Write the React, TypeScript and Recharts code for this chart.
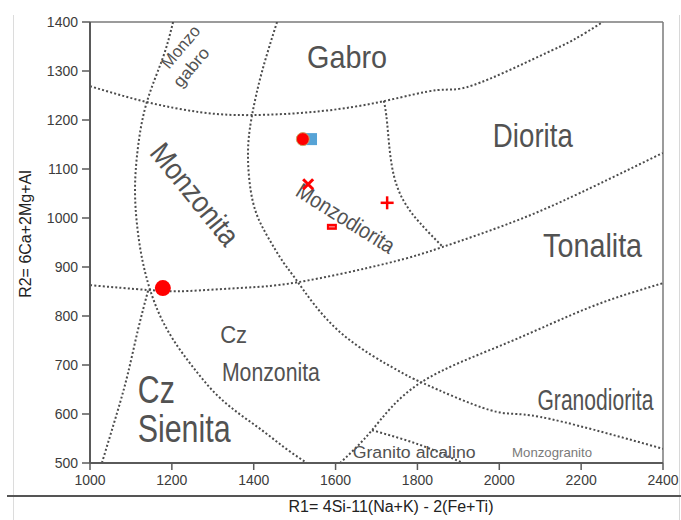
import React from 'react';
import { ComposedChart, Line, Scatter, XAxis, YAxis, ReferenceLine } from 'recharts';

const FONT = '"Liberation Sans", Arial, Helvetica, sans-serif';

const xTicks = [1000, 1200, 1400, 1600, 1800, 2000, 2200, 2400];
const yTicks = [500, 600, 700, 800, 900, 1000, 1100, 1200, 1300, 1400];

// Field boundaries of the R1-R2 diagram (R1, R2)
const gabroUpper = [
  { x: 1000, y: 1269 }, { x: 1137, y: 1237 }, { x: 1269, y: 1216 }, { x: 1393, y: 1210 },
  { x: 1564, y: 1218 }, { x: 1721, y: 1239 }, { x: 1848, y: 1261 }, { x: 1936, y: 1271 },
  { x: 2100, y: 1331 }, { x: 2180, y: 1363 }, { x: 2253, y: 1400 },
];
const monzogabroArc = [
  { x: 1203, y: 1400 }, { x: 1178, y: 1327 }, { x: 1139, y: 1237 }, { x: 1117, y: 1143 },
  { x: 1110, y: 1053 }, { x: 1117, y: 971 }, { x: 1129, y: 910 }, { x: 1147, y: 853 },
  { x: 1176, y: 792 }, { x: 1215, y: 737 }, { x: 1257, y: 690 }, { x: 1305, y: 643 },
  { x: 1362, y: 602 }, { x: 1420, y: 567 }, { x: 1476, y: 531 }, { x: 1530, y: 500 },
];
const sienitaLeft = [
  { x: 1029, y: 500 }, { x: 1066, y: 602 }, { x: 1093, y: 684 }, { x: 1117, y: 771 },
  { x: 1142, y: 852 },
];
const gabroArc = [
  { x: 1457, y: 1400 }, { x: 1420, y: 1298 }, { x: 1396, y: 1210 }, { x: 1386, y: 1129 },
  { x: 1398, y: 1033 }, { x: 1432, y: 965 }, { x: 1472, y: 910 }, { x: 1508, y: 869 },
  { x: 1611, y: 767 }, { x: 1750, y: 690 }, { x: 1814, y: 663 }, { x: 1977, y: 608 },
  { x: 2100, y: 594 }, { x: 2400, y: 529 },
];
const monzonitaLower = [
  { x: 1000, y: 863 }, { x: 1142, y: 853 }, { x: 1239, y: 851 }, { x: 1362, y: 857 },
  { x: 1508, y: 869 }, { x: 1728, y: 908 }, { x: 1862, y: 941 }, { x: 2034, y: 992 },
  { x: 2197, y: 1051 }, { x: 2400, y: 1133 },
];
const dioritaLeft = [
  { x: 1718, y: 1239 }, { x: 1726, y: 1194 }, { x: 1738, y: 1104 }, { x: 1765, y: 1037 },
  { x: 1806, y: 990 }, { x: 1862, y: 941 },
];
const granodioritaUpper = [
  { x: 1611, y: 500 }, { x: 1689, y: 567 }, { x: 1806, y: 663 }, { x: 2019, y: 745 },
  { x: 2222, y: 818 }, { x: 2400, y: 867 },
];
const granitoAlcalino = [
  { x: 1689, y: 567 }, { x: 1806, y: 537 }, { x: 1911, y: 500 },
];

const boundaries = [
  gabroUpper, monzogabroArc, sienitaLeft, gabroArc,
  monzonitaLower, dioritaLeft, granodioritaUpper, granitoAlcalino,
];

// Samples
const sampleSquare = [{ x: 1540, y: 1161 }];
const sampleCircle = [{ x: 1520, y: 1161 }];
const sampleCross = [{ x: 1533, y: 1069 }];
const sampleMinus = [{ x: 1591, y: 982 }];
const samplePlus = [{ x: 1726, y: 1031 }];
const sampleBigCircle = [{ x: 1178, y: 857 }];

// Field names: anchor point, font size, drawn width, rotation
const fieldLabels = [
  { x: 1628, y: 1306, text: 'Gabro', size: 32, len: 80, angle: 0 },
  { x: 2082, y: 1145, text: 'Diorita', size: 34, len: 80, angle: 0 },
  { x: 2228, y: 920, text: 'Tonalita', size: 34, len: 99, angle: 0 },
  { x: 2235, y: 608, text: 'Granodiorita', size: 29, len: 116, angle: 0 },
  { x: 1162, y: 622, text: 'Cz', size: 38, len: 37, angle: 0 },
  { x: 1230, y: 543, text: 'Sienita', size: 38, len: 93, angle: 0 },
  { x: 1351, y: 745, text: 'Cz', size: 24, len: 27, angle: 0 },
  { x: 1442, y: 667, text: 'Monzonita', size: 25, len: 98, angle: 0 },
  { x: 1792, y: 510, text: 'Granito alcalino', size: 17, len: 123, angle: 0 },
  { x: 2129, y: 512, text: 'Monzogranito', size: 13, len: 80, angle: 0, light: true },
];
const rotatedLabels = [
  { x: 1257, y: 1049, text: 'Monzonita', size: 30, len: 122, angle: 51 },
  { x: 1625, y: 1000, text: 'Monzodiorita', size: 22, len: 112, angle: 32 },
  { x: 1222, y: 1349, text: 'Monzo', size: 17, len: 50, angle: -50 },
  { x: 1247, y: 1308, text: 'gabro', size: 17, len: 46, angle: -50 },
];

const TEXT_COLOR = '#525252';

let measureCtx: CanvasRenderingContext2D | null = null;
const measureWidth = (text: string, size: number) => {
  if (!measureCtx && typeof document !== 'undefined') {
    measureCtx = document.createElement('canvas').getContext('2d');
  }
  if (!measureCtx) return text.length * size * 0.55;
  measureCtx.font = `${size}px "Liberation Sans", Arial, sans-serif`;
  return measureCtx.measureText(text).width || text.length * size * 0.55;
};

// Narrowed text: the natural glyphs squeezed horizontally to the drawn width
const NarrowText = ({ cx, cy, payload, central }: any) => {
  if (cx == null || cy == null) return null;
  const sx = payload.len / measureWidth(payload.text, payload.size);
  return (
    <text
      x={0}
      y={0}
      textAnchor="middle"
      dominantBaseline={central ? 'central' : undefined}
      fontFamily={FONT}
      fontSize={payload.size}
      fill={payload.light ? '#7a7a7a' : TEXT_COLOR}
      transform={`translate(${cx} ${cy}) rotate(${payload.angle}) scale(${sx} 1)`}
    >
      {payload.text}
    </text>
  );
};
const FieldText = (props: any) => <NarrowText {...props} central={false} />;
const RotatedText = (props: any) => <NarrowText {...props} central />;

const SquareMark = ({ cx, cy }: any) => (
  <rect x={cx - 6} y={cy - 6} width={12} height={12} fill="#56a3d6" />
);
const CircleMark = ({ cx, cy }: any) => (
  <circle cx={cx} cy={cy} r={6.5} fill="#ff0000" stroke="#c9a866" strokeWidth={1} />
);
const BigCircleMark = ({ cx, cy }: any) => (
  <circle cx={cx} cy={cy} r={8} fill="#ff0000" />
);
const CrossMark = ({ cx, cy }: any) => (
  <g stroke="#ff0000" strokeWidth={3}>
    <line x1={cx - 5} y1={cy - 5} x2={cx + 5} y2={cy + 5} />
    <line x1={cx - 5} y1={cy + 5} x2={cx + 5} y2={cy - 5} />
  </g>
);
const PlusMark = ({ cx, cy }: any) => (
  <g stroke="#ff0000" strokeWidth={2.5}>
    <line x1={cx - 6.5} y1={cy} x2={cx + 6.5} y2={cy} />
    <line x1={cx} y1={cy - 6.5} x2={cx} y2={cy + 6.5} />
  </g>
);
const MinusMark = ({ cx, cy }: any) => (
  <g>
    <rect x={cx - 5} y={cy - 3} width={10} height={6} fill="#ff0000" />
    <line x1={cx - 3} y1={cy} x2={cx + 3} y2={cy} stroke="#ff9a9a" strokeWidth={1.2} />
  </g>
);

const tickStyle = { fill: '#3c3c3c', fontSize: 14, fontFamily: FONT };

export default function App() {
  return (
    <div style={{ position: 'absolute', left: 0, top: 0, width: 681, height: 520, background: '#fff', overflow: 'hidden' }}>
      <div style={{ position: 'absolute', left: 13, top: 15, width: 1, height: 505, background: '#dcdcdc' }} />
      <div style={{ position: 'absolute', left: 679, top: 15, width: 1, height: 505, background: '#d8d8d8' }} />
      <ComposedChart
        width={681}
        height={520}
        margin={{ top: 22, right: 18, bottom: 27, left: 0 }}
        style={{ position: 'absolute', left: 0, top: 0 }}
      >
        <XAxis
          type="number"
          dataKey="x"
          domain={[1000, 2400]}
          ticks={xTicks}
          allowDataOverflow
          height={30}
          tickSize={7}
          tickMargin={5}
          tick={tickStyle}
          stroke="#5a5a5a"
          axisLine={{ stroke: '#5a5a5a', strokeWidth: 2 }}
          tickLine={{ stroke: '#5a5a5a', strokeWidth: 1.5 }}
        />
        <YAxis
          type="number"
          dataKey="y"
          domain={[500, 1400]}
          ticks={yTicks}
          allowDataOverflow
          width={90}
          tickSize={8}
          tickMargin={4}
          tick={tickStyle}
          stroke="#5a5a5a"
          axisLine={{ stroke: '#5a5a5a', strokeWidth: 2 }}
          tickLine={{ stroke: '#5a5a5a', strokeWidth: 1.5 }}
        />
        <ReferenceLine y={1400} stroke="#7a7a7a" strokeWidth={1.5} />
        <ReferenceLine x={2400} stroke="#7a7a7a" strokeWidth={1.5} />
        {boundaries.map((curve, i) => (
          <Line
            key={`b${i}`}
            data={curve}
            dataKey="y"
            type="natural"
            stroke="#4c4c4c"
            strokeWidth={2}
            strokeDasharray="2 2.2"
            dot={false}
            activeDot={false}
            isAnimationActive={false}
          />
        ))}
        <Scatter data={fieldLabels} dataKey="y" shape={FieldText} isAnimationActive={false} />
        <Scatter data={rotatedLabels} dataKey="y" shape={RotatedText} isAnimationActive={false} />
        <Scatter data={sampleSquare} dataKey="y" shape={SquareMark} isAnimationActive={false} />
        <Scatter data={sampleCircle} dataKey="y" shape={CircleMark} isAnimationActive={false} />
        <Scatter data={sampleCross} dataKey="y" shape={CrossMark} isAnimationActive={false} />
        <Scatter data={sampleMinus} dataKey="y" shape={MinusMark} isAnimationActive={false} />
        <Scatter data={samplePlus} dataKey="y" shape={PlusMark} isAnimationActive={false} />
        <Scatter data={sampleBigCircle} dataKey="y" shape={BigCircleMark} isAnimationActive={false} />
      </ComposedChart>
      <div style={{ position: 'absolute', left: 7, top: 495, width: 674, height: 2, background: '#555' }} />
      <div
        style={{
          position: 'absolute', left: 200, top: 497, width: 382, textAlign: 'center',
          fontFamily: FONT, fontSize: 16, color: '#222', lineHeight: '20px',
        }}
      >
        R1= 4Si-11(Na+K) - 2(Fe+Ti)
      </div>
      <div
        style={{
          position: 'absolute', left: 26 - 100, top: 234 - 10, width: 200, height: 20, textAlign: 'center',
          fontFamily: FONT, fontSize: 16, color: '#222', lineHeight: '20px',
          transform: 'rotate(-90deg)', transformOrigin: '100px 10px',
        }}
      >
        R2= 6Ca+2Mg+Al
      </div>
    </div>
  );
}
